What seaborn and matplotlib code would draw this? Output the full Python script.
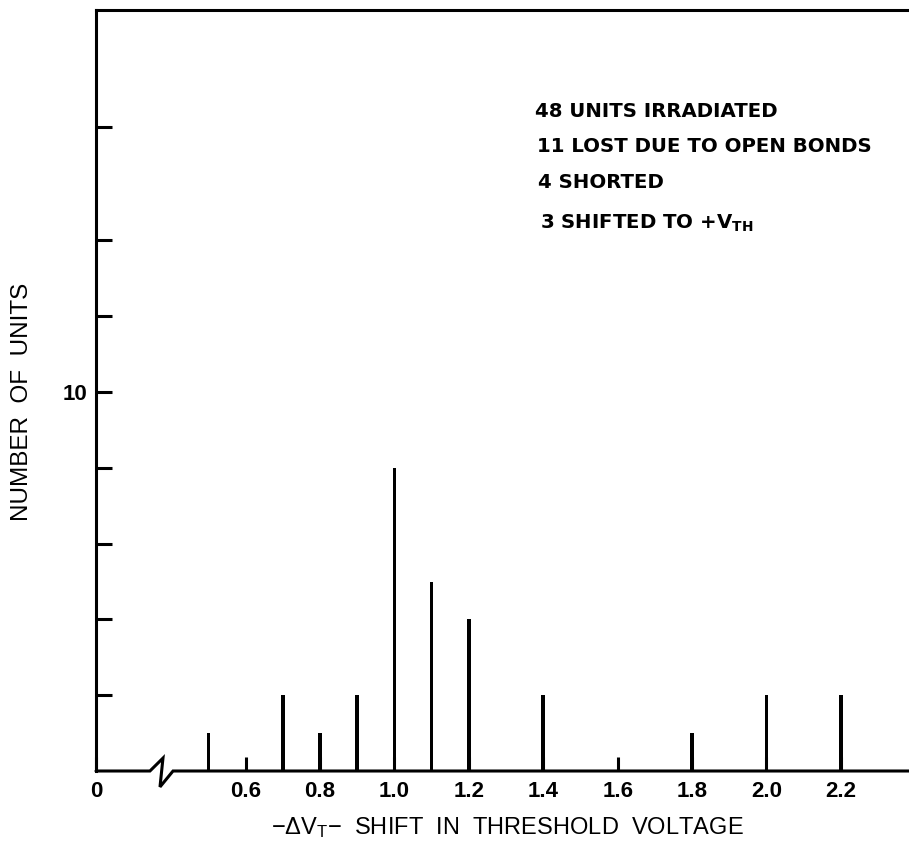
import matplotlib
matplotlib.use('Agg')
import matplotlib.pyplot as plt
import seaborn as sns
import pandas as pd

# ---- data ----
shift_v = [0.5, 0.7, 0.8, 0.9, 1.0, 1.1, 1.2, 1.4, 1.8, 2.0, 2.2]
n_units = [1, 2, 1, 2, 8, 5, 4, 2, 1, 2, 2]
x_tick_vals = [0.6, 0.8, 1.0, 1.2, 1.4, 1.6, 1.8, 2.0, 2.2]
x_tick_labels = ['0.6', '0.8', '1.0', '1.2', '1.4', '1.6', '1.8', '2.0', '2.2']
y_tick_vals = [2, 4, 6, 8, 10, 12, 14, 17]
y_tick_labels = ['', '', '', '', '10', '', '', '']
notes = ['48 UNITS IRRADIATED',
         '11 LOST DUE TO OPEN BONDS',
         '4 SHORTED',
         r'3 SHIFTED TO +V$_{\mathbf{TH}}$']
x_label = r'−ΔV$_{\mathrm{T}}$−  SHIFT  IN  THRESHOLD  VOLTAGE'
y_label = 'NUMBER  OF  UNITS'

df = pd.DataFrame({'shift': shift_v, 'units': n_units})

sns.set_theme(style='white')
plt.rcParams['font.family'] = ['Liberation Sans', 'DejaVu Sans']
plt.rcParams['text.color'] = 'black'
plt.rcParams['mathtext.fontset'] = 'custom'
plt.rcParams['mathtext.rm'] = 'Liberation Sans'
plt.rcParams['mathtext.it'] = 'Liberation Sans'
plt.rcParams['mathtext.bf'] = 'DejaVu Sans:bold'

W, H = 909, 849
fig = plt.figure(figsize=(W / 100, H / 100), dpi=100)
fig.patch.set_facecolor('white')
ax = fig.add_axes([96 / W, (H - 771) / H, (W - 96) / W, (771 - 10) / H])

sns.barplot(data=df, x='shift', y='units', native_scale=True, color='black',
            saturation=1, width=0.1, linewidth=0, ax=ax)

x0, x1 = 0.198, 2.383
ax.set_xlim(x0, x1)
ax.set_ylim(0, 20.08)

ax.set_xticks([x0] + x_tick_vals)
ax.set_xticklabels(['0'] + x_tick_labels)
ax.set_yticks(y_tick_vals)
ax.set_yticklabels(y_tick_labels)
ax.set_xlabel('')
ax.set_ylabel('')

ax.tick_params(axis='x', direction='in', length=10, width=2.2, pad=7,
               labelsize=16, colors='black', bottom=True, top=False)
ax.tick_params(axis='y', direction='in', length=11.5, width=2.2, pad=6,
               labelsize=16, colors='black', left=True, right=False)
for lab in ax.get_xticklabels() + ax.get_yticklabels():
    lab.set_fontweight('bold')

for s in ['left', 'top']:
    ax.spines[s].set_visible(True)
    ax.spines[s].set_linewidth(2.2)
    ax.spines[s].set_color('black')
ax.spines['right'].set_visible(False)
ax.spines['bottom'].set_visible(False)

# baseline with axis-break symbol
ax.plot([x0, 0.343, 0.378, 0.370, 0.405, x1], [0, 0, 0.34, -0.42, 0, 0],
        color='black', lw=2.2, clip_on=False, solid_joinstyle='miter')

# annotation block
note_pos = [(535, 117), (537, 152), (538, 188), (540, 229)]
for (px, py), t in zip(note_pos, notes):
    fig.text(px / W, 1 - py / H, t, ha='left', va='baseline', color='black',
             fontsize=14.2, fontweight='bold', family=['DejaVu Sans'])

fig.text(507 / W, 1 - 834 / H, x_label, ha='center', va='baseline',
         fontsize=17, color='black')
fig.text(22.5 / W, 1 - 402 / H, y_label, ha='center', va='center',
         rotation=90, fontsize=17.5, color='black')

fig.savefig('out.png', dpi=100, facecolor='white')
